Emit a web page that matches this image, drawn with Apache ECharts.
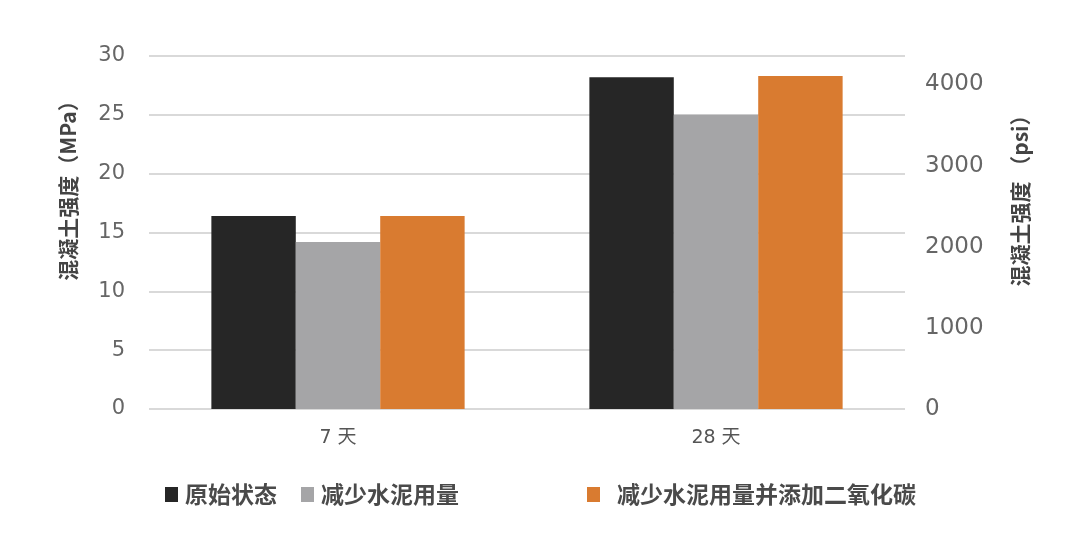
<!DOCTYPE html>
<html><head><meta charset="utf-8">
<script src="https://cdn.jsdelivr.net/npm/echarts@6/dist/echarts.min.js"></script>
<style>html,body{margin:0;padding:0;background:#fff}#c{width:1080px;height:547px}</style>
</head><body><div id="c"></div>
<script>
const categories = ['7 天', '28 天'];
const seriesNames = ['原始状态', '减少水泥用量', '减少水泥用量并添加二氧化碳'];
const original = [16.4, 28.2];
const reducedCement = [14.2, 25.0];
const reducedWithCO2 = [16.4, 28.3];
const leftTicks = [0, 5, 10, 15, 20, 25, 30];
const rightTicks = [0, 1000, 2000, 3000, 4000];
const MPA_TO_PSI = 145.038;

const font = "'DejaVu Sans', 'Noto Sans CJK SC', sans-serif";
const cjk = "'Noto Sans CJK SC', 'DejaVu Sans', sans-serif";
const colors = ['#262626', '#a5a5a7', '#d97b30'];
const chart = echarts.init(document.getElementById('c'));
const legendText = {fontSize: 23, color: '#4a4a4a', fontFamily: cjk, fontWeight: 'bold', padding: [0, 0, 0, 2]};
chart.setOption({
  animation: false,
  color: colors,
  grid: {left: 149, right: 175, top: 56, bottom: 138},
  legend: [
    {data: seriesNames.slice(0, 2), left: 160, top: 478, icon: 'rect', itemWidth: 13, itemHeight: 15, itemGap: 24, textStyle: legendText},
    {data: seriesNames.slice(2), left: 582, top: 478, icon: 'rect', itemWidth: 13, itemHeight: 15,
     textStyle: Object.assign({}, legendText, {padding: [0, 0, 0, 12]})}
  ],
  xAxis: {
    type: 'category', data: categories,
    axisLine: {show: false}, axisTick: {show: false},
    axisLabel: {fontSize: 19, color: '#555', fontFamily: font, margin: 20}
  },
  yAxis: [
    {
      type: 'value', min: leftTicks[0], max: leftTicks[leftTicks.length - 1], interval: 5,
      name: '混凝土强度（MPa）', nameLocation: 'middle', nameGap: 70, nameRotate: 90,
      nameTextStyle: {fontSize: 21, color: '#444', fontFamily: cjk, fontWeight: 'bold', padding: [0, 0, 0, 94]},
      axisLabel: {fontSize: 21, color: '#666', fontFamily: font, margin: 24},
      splitLine: {lineStyle: {color: '#d9d9d9', width: 2}},
      axisLine: {show: false}, axisTick: {show: false}
    },
    {
      type: 'value', min: 0, max: leftTicks[leftTicks.length - 1] * MPA_TO_PSI, interval: 1000,
      position: 'right',
      name: '混凝土强度 （psi）', nameLocation: 'middle', nameGap: 105, nameRotate: 90,
      nameTextStyle: {fontSize: 21, color: '#444', fontFamily: cjk, fontWeight: 'bold', padding: [0, 0, 0, 74]},
      axisLabel: {fontSize: 23, color: '#666', fontFamily: font, margin: 20,
        formatter: v => rightTicks.includes(v) ? String(v) : ''},
      splitLine: {show: false}, axisLine: {show: false}, axisTick: {show: false}
    }
  ],
  series: [
    {name: seriesNames[0], type: 'bar', data: original, barGap: '0%', barCategoryGap: '33%'},
    {name: seriesNames[1], type: 'bar', data: reducedCement, barGap: '0%', barCategoryGap: '33%'},
    {name: seriesNames[2], type: 'bar', data: reducedWithCO2, barGap: '0%', barCategoryGap: '33%'}
  ]
});
</script></body></html>
